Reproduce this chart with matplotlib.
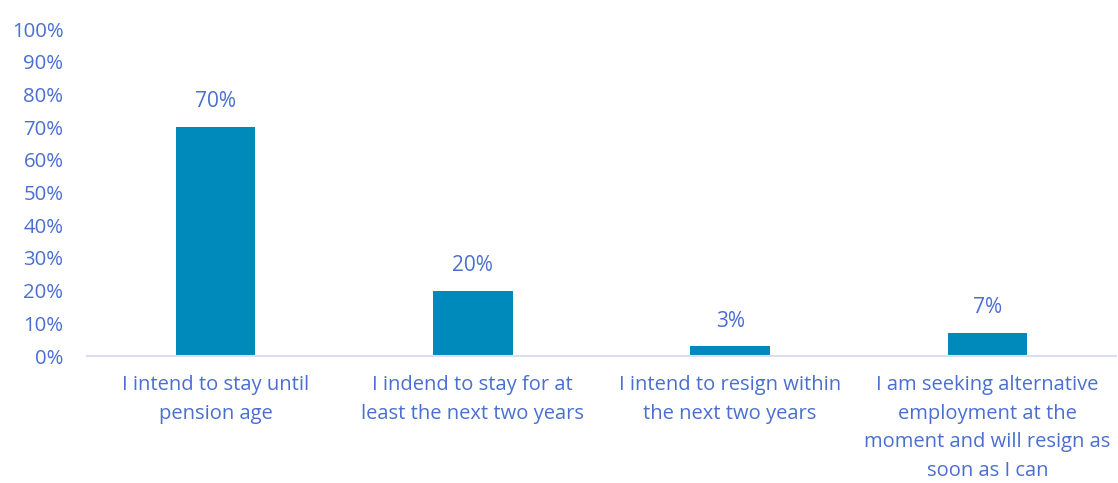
import matplotlib
matplotlib.use("Agg")
import matplotlib.pyplot as plt
from matplotlib.ticker import FuncFormatter, MultipleLocator

categories = [
    "I intend to stay until\npension age",
    "I indend to stay for at\nleast the next two years",
    "I intend to resign within\nthe next two years",
    "I am seeking alternative\nemployment at the\nmoment and will resign as\nsoon as I can",
]
values = [70, 20, 3, 7]
labels = ["70%", "20%", "3%", "7%"]

text_color = "#4A6FD0"
bar_color = "#008ABB"

plt.rcParams['font.family'] = ['Open Sans', 'DejaVu Sans']

fig = plt.figure(figsize=(11.18, 4.83), dpi=100)
ax = fig.add_axes([87/1118, 1-356/483, (1116-87)/1118, (356-29)/483])

x = range(len(categories))
ax.bar(x, values, width=0.31, color=bar_color, zorder=3)
for xi, v, lab in zip(x, values, labels):
    ax.text(xi, v + 7.7, lab, ha='center', va='center', color=text_color, fontsize=15)

ax.set_ylim(0, 100)
ax.set_xlim(-0.5, 3.5)
ax.yaxis.set_major_locator(MultipleLocator(10))
ax.yaxis.set_major_formatter(FuncFormatter(lambda v, p: f"{int(v)}%"))
ax.set_xticks(list(x))
ax.set_xticklabels(categories, color=text_color, fontsize=14.5, linespacing=1.56, va='top')
ax.tick_params(axis='y', colors=text_color, labelsize=14.7, length=0, pad=17)
ax.tick_params(axis='x', length=0, pad=14)
for lab in ax.get_yticklabels():
    lab.set_color(text_color)
for s in ['top', 'right', 'left']:
    ax.spines[s].set_visible(False)
ax.spines['bottom'].set_color('#D9DEF0')
ax.spines['bottom'].set_linewidth(1.5)
ax.spines['bottom'].set_zorder(4)

fig.savefig("out.png", dpi=100)
